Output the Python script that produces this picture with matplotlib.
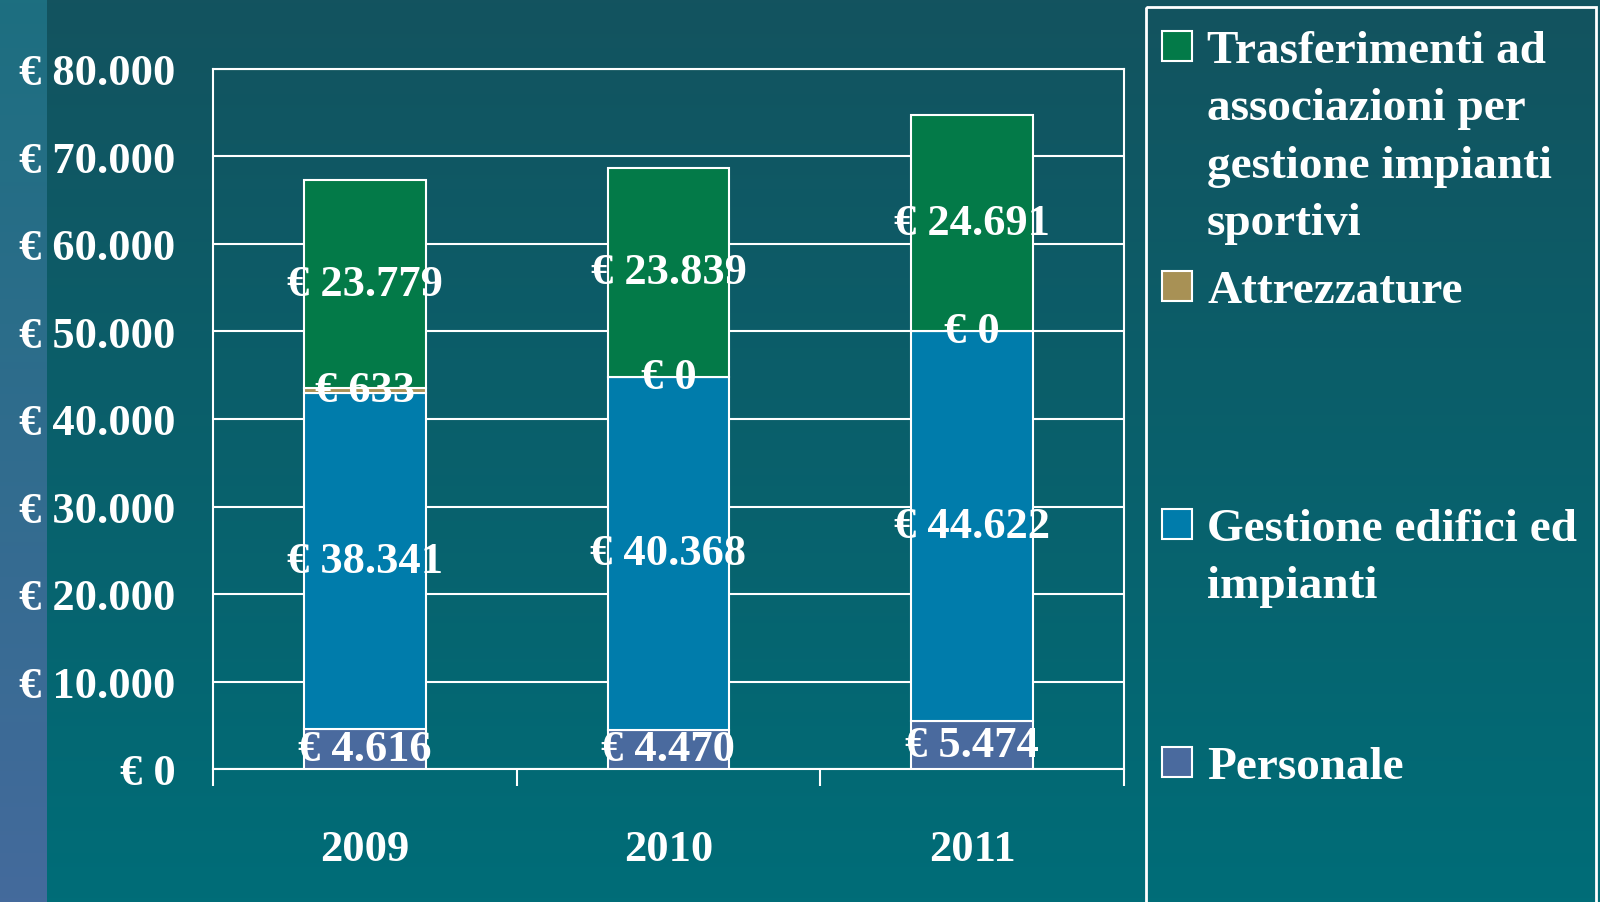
import numpy as np
import matplotlib.pyplot as plt
from matplotlib.colors import LinearSegmentedColormap
from matplotlib.patches import Rectangle

anni = ['2009', '2010', '2011']
personale = [4616, 4470, 5474]
gestione = [38341, 40368, 44622]
attrezzature = [633, 0, 0]
trasferimenti = [23779, 23839, 24691]

serie = [
    ('Personale', personale, '#4a6a9e'),
    ('Gestione edifici ed\nimpianti', gestione, '#007cab'),
    ('Attrezzature', attrezzature, '#a89155'),
    ('Trasferimenti ad\nassociazioni per\ngestione impianti\nsportivi', trasferimenti, '#037a48'),
]

def euro(v):
    s = '{:,}'.format(int(v)).replace(',', '.')
    return '€ ' + s

plt.rcParams['font.family'] = ['Liberation Serif', 'DejaVu Serif']
plt.rcParams['font.weight'] = 'bold'

W, H = 1600, 903
fig = plt.figure(figsize=(16, 9.03), dpi=100)

# sfondo con gradiente
bg = fig.add_axes([0, 0, 1, 1], zorder=-10)
bg.set_axis_off()
grad = np.linspace(0, 1, 256).reshape(-1, 1)
cm_main = LinearSegmentedColormap.from_list('m', ['#13535f', '#006d78'])
cm_side = LinearSegmentedColormap.from_list('s', ['#1d6f80', '#446a9c'])
bg.imshow(grad, cmap=cm_main, aspect='auto', extent=[0, W, H, 0])
bg.imshow(grad, cmap=cm_side, aspect='auto', extent=[0, 47, H, 0])
bg.set_xlim(0, W)
bg.set_ylim(H, 0)

# riquadro legenda
bg.add_patch(Rectangle((1146, 8), 450, 920, facecolor='none',
                       edgecolor='white', lw=2))

ax = fig.add_axes([213 / W, 133 / H, 911 / W, 700 / H])
ax.set_facecolor('none')
x = np.arange(len(anni))
bottom = np.zeros(len(anni))
for nome, vals, col in serie:
    ax.bar(x, vals, 0.4, bottom=bottom, color=col, edgecolor='white',
           linewidth=1.5, zorder=3)
    for i, v in enumerate(vals):
        ax.text(x[i], bottom[i] + v / 2, euro(v), ha='center', va='center',
                color='white', fontsize=32, fontweight='bold', zorder=5)
    bottom += np.array(vals)

ax.set_xlim(-0.5, 2.5)
ax.set_ylim(0, 80000)
ax.set_yticks(range(0, 80001, 10000))
ax.set_yticklabels([euro(v) for v in range(0, 80001, 10000)])
ax.yaxis.grid(True, color='white', lw=1.5, zorder=0)
ax.tick_params(axis='y', length=0, pad=27, labelsize=32, labelcolor='white')
ax.set_xticks([-0.5, 0.5, 1.5, 2.5])
ax.set_xticklabels([])
ax.set_xticks(x, minor=True)
ax.set_xticklabels(anni, minor=True)
ax.tick_params(axis='x', which='major', direction='out', length=12,
               width=1.5, color='white')
ax.tick_params(axis='x', which='minor', length=0, pad=43, labelsize=32,
               labelcolor='white')
for sp in ax.spines.values():
    sp.set_color('white')
    sp.set_linewidth(1.5)

# legenda manuale
voci_y = [47, 287, 525, 763]
for (nome, vals, col), yy in zip(serie[::-1], voci_y):
    bg.add_patch(Rectangle((1162, yy - 15), 30, 30, facecolor=col,
                           edgecolor='white', lw=1.5))
    bg.text(1207, yy - 16, nome, color='white', fontsize=34,
            fontweight='bold', ha='left', va='top', linespacing=1.48)

fig.savefig('out.png', dpi=100)
